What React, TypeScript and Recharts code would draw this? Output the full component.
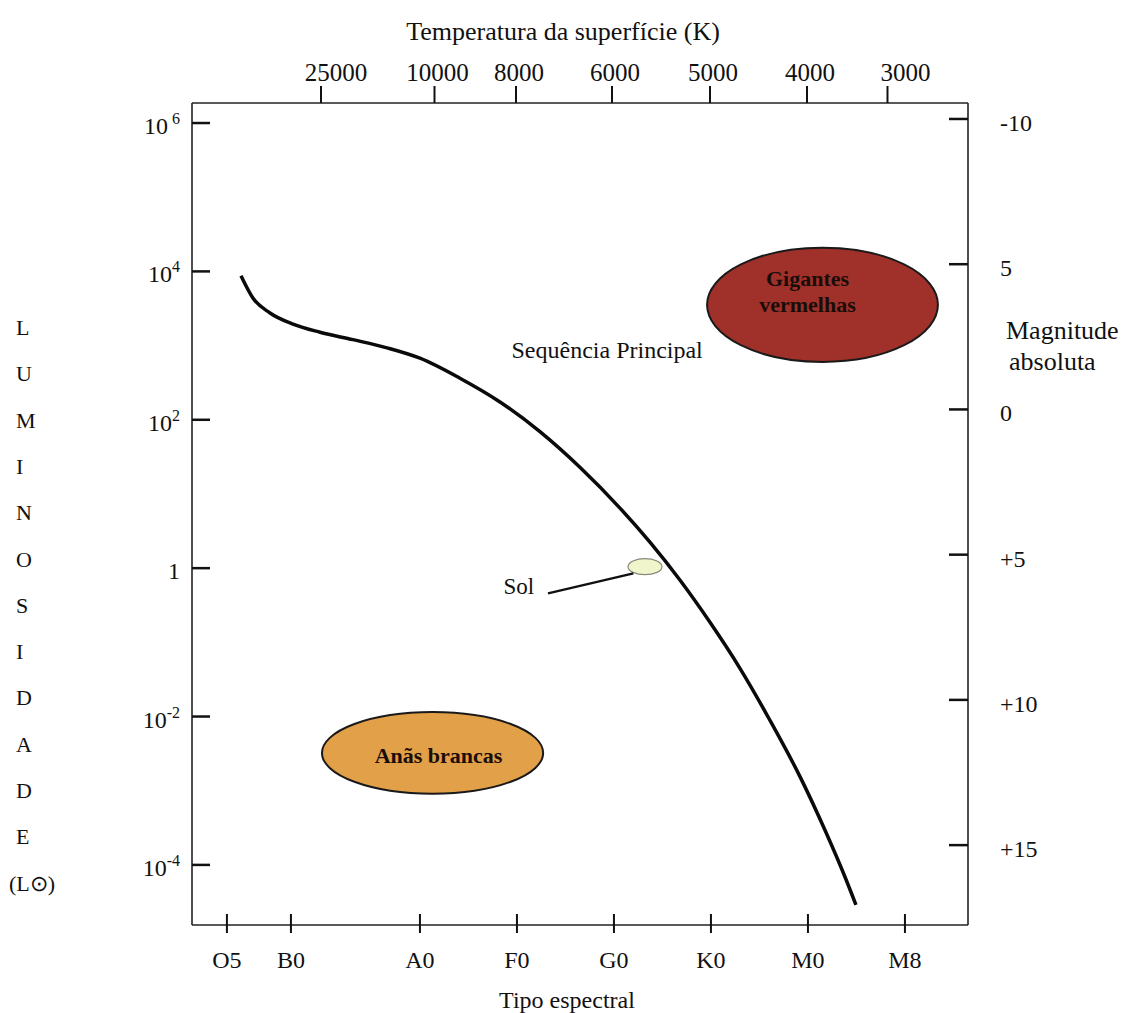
import React from 'react';
import {
  ComposedChart,
  Line,
  XAxis,
  YAxis,
  ReferenceArea,
  ReferenceLine,
  ReferenceDot,
} from 'recharts';

// ---- data ----
// x: diagram column position (A0 = 0, one spectral class per unit)
const spectralTypes = ['O5', 'B0', 'A0', 'F0', 'G0', 'K0', 'M0', 'M8'];
const spectralPos = [-1.99, -1.33, 0, 1, 2, 3, 4, 5];
const temperatureLabels = ['25000', '10000', '8000', '6000', '5000', '4000', '3000'];
const temperaturePos = [-1.02, 0.15, 0.99, 1.98, 2.99, 3.99, 4.82];
// y: log10 luminosity (solar units)
const luminosityTicks = [6, 4, 2, 0, -2, -4];
const magnitudeTicks = [-10, -5, 0, 5, 10, 15];
const magnitudeLabels = ['-10', '5', '0', '+5', '+10', '+15'];

const msPos = [-1.845, -1.722, -1.546, -1.309, -1.031, -0.691, -0.34, 0, 0.412, 0.825, 1.237, 1.649, 2.062, 2.371, 2.68, 2.99, 3.299, 3.608, 3.918, 4.175, 4.381, 4.495];
const msLogL = [3.94, 3.64, 3.44, 3.29, 3.18, 3.08, 2.97, 2.83, 2.56, 2.24, 1.84, 1.36, 0.81, 0.35, -0.16, -0.73, -1.35, -2.05, -2.81, -3.53, -4.16, -4.54];
const mainSequence = msPos.map((p, i) => ({ pos: p, logL: msLogL[i] }));

// regions: [centerPos, centerLogL, halfWidthPos, halfHeightLogL]
const redGiants = [4.15, 3.55, 1.19, 0.77];
const whiteDwarfs = [0.13, -2.49, 1.14, 0.55];
const sun = [2.32, 0.02, 0.175, 0.108];
const sunPointer = [
  { x: 2.2, y: -0.07 },
  { x: 1.32, y: -0.34 },
];
const sunLabel = { x: 1.02, y: -0.25, text: 'Sol' };
const msLabel = { x: 1.93, y: 2.94, text: 'Sequência Principal' };

// ---- styles ----
const FONT = '"Liberation Serif", "Times New Roman", serif';
const INK = '#111';
const X_DOMAIN = [-2.35, 5.65];
const LUM_DOMAIN = [-4.81, 6.27];
const MAG_DOMAIN = [-10.55, 17.75];
const TICK_FONT = 24;

const LumTick = (props: any) => {
  const { x, y, payload } = props;
  const v = payload.value;
  let label: React.ReactNode;
  if (v === 0) label = '1';
  else
    label = (
      <>
        10
        <tspan dy={-10} fontSize={16}>{v === 6 ? ' 6' : v < 0 ? `-${-v}` : `${v}`}</tspan>
      </>
    );
  return (
    <g>
      <line x1={x + 12} x2={x + 30} y1={y} y2={y} stroke={INK} strokeWidth={2.5} />
      <text x={x} y={y + 11} textAnchor="end" fontFamily={FONT} fontSize={TICK_FONT} fill={INK}>
        {label}
      </text>
    </g>
  );
};

const MagTick = (props: any) => {
  const { x, y, index } = props;
  return (
    <g>
      <line x1={x - 51} x2={x - 32} y1={y} y2={y} stroke={INK} strokeWidth={2.5} />
      <text x={x} y={y + 12} textAnchor="start" fontFamily={FONT} fontSize={TICK_FONT} fill={INK}>
        {magnitudeLabels[index]}
      </text>
    </g>
  );
};

const SpectralTick = (props: any) => {
  const { x, y, index } = props;
  return (
    <g>
      <line x1={x} x2={x} y1={y - 46} y2={y - 27} stroke={INK} strokeWidth={2} />
      <text x={x} y={y + 8} textAnchor="middle" fontFamily={FONT} fontSize={TICK_FONT} fill={INK}>
        {spectralTypes[index]}
      </text>
    </g>
  );
};

const TOP_LABEL_DX: Record<string, number> = { '25000': 15, '3000': 18 };

const TempTick = (props: any) => {
  const { x, y, index } = props;
  const label = temperatureLabels[index];
  return (
    <text x={x + (TOP_LABEL_DX[label] || 3)} y={y} textAnchor="middle" fontFamily={FONT} fontSize={25} fill={INK}>
      {label}
    </text>
  );
};

const ellipseShape = (fill: string, stroke: string, lines: string[], dx: number, dy: number, lineGap: number, strokeWidth = 2) => (p: any) => {
  const cx = p.x + p.width / 2;
  const cy = p.y + p.height / 2;
  const top = cy + dy - ((lines.length - 1) * lineGap) / 2;
  return (
    <g>
      <ellipse cx={cx} cy={cy} rx={p.width / 2} ry={p.height / 2} fill={fill} stroke={stroke} strokeWidth={strokeWidth} />
      {lines.map((t, i) => (
        <text
          key={t}
          x={cx + dx}
          y={top + i * lineGap + 8}
          textAnchor="middle"
          fontFamily={FONT}
          fontWeight="bold"
          fontSize={22}
          fill="#1a0d08"
        >
          {t}
        </text>
      ))}
    </g>
  );
};

const textShape = (text: string, size: number, anchor: 'start' | 'middle' | 'end') => (p: any) => (
  <text x={p.cx} y={p.cy + size * 0.33} textAnchor={anchor} fontFamily={FONT} fontSize={size} fill={INK}>
    {text}
  </text>
);

const luminosityLetters = ['L', 'U', 'M', 'I', 'N', 'O', 'S', 'I', 'D', 'A', 'D', 'E'];

const LeftTitle = () => (
  <g fontFamily={FONT} fontSize={22} fill={INK}>
    {luminosityLetters.map((c, i) => (
      <text key={i} x={8} y={327 + i * 46.3}>
        {c}
      </text>
    ))}
    <text x={1} y={327 + 12 * 46.3}>(L⊙)</text>
  </g>
);

const RightTitle = () => (
  <g fontFamily={FONT} fontSize={26} fill={INK}>
    <text x={998} y={331}>Magnitude</text>
    <text x={1001} y={362}>absoluta</text>
  </g>
);

const TopTitle = () => (
  <text x={555} y={32} textAnchor="middle" fontFamily={FONT} fontSize={26} fill={INK}>
    Temperatura da superfície (K)
  </text>
);

const BottomTitle = () => (
  <text x={559} y={1000} textAnchor="middle" fontFamily={FONT} fontSize={24} fill={INK}>
    Tipo espectral
  </text>
);

const area = (r: number[]) => ({ x1: r[0] - r[2], x2: r[0] + r[2], y1: r[1] - r[3], y2: r[1] + r[3] });

export default function App() {
  const axisLine = { stroke: '#222', strokeWidth: 1.6 };
  return (
    <div style={{ background: '#fff' }}>
      <ComposedChart
        width={1120}
        height={1005}
        data={mainSequence}
        margin={{ top: 35, right: 40, bottom: 28, left: 84 }}
      >
        <XAxis
          xAxisId="bottom"
          dataKey="pos"
          type="number"
          orientation="bottom"
          domain={X_DOMAIN}
          ticks={spectralPos}
          interval={0}
          height={60}
          axisLine={axisLine}
          tickLine={false}
          tickSize={0}
          tickMargin={35}
          tick={<SpectralTick />}
          allowDataOverflow
          label={{ content: () => <BottomTitle /> }}
        />
        <XAxis
          xAxisId="top"
          dataKey="pos"
          type="number"
          orientation="top"
          domain={X_DOMAIN}
          ticks={temperaturePos}
          interval={0}
          height={60}
          axisLine={axisLine}
          tickLine={{ stroke: INK, strokeWidth: 2 }}
          tickSize={17}
          tickMargin={5}
          tick={<TempTick />}
          allowDataOverflow
          label={{ content: () => <TopTitle /> }}
        />
        <YAxis
          yAxisId="lum"
          dataKey="logL"
          type="number"
          orientation="left"
          domain={LUM_DOMAIN}
          ticks={luminosityTicks}
          interval={0}
          width={100}
          axisLine={axisLine}
          tickLine={false}
          tickSize={0}
          tickMargin={12}
          tick={<LumTick />}
          allowDataOverflow
          label={{ content: () => <LeftTitle /> }}
        />
        <YAxis
          yAxisId="mag"
          type="number"
          orientation="right"
          reversed
          domain={MAG_DOMAIN}
          ticks={magnitudeTicks}
          interval={0}
          width={120}
          axisLine={axisLine}
          tickLine={false}
          tickSize={0}
          tickMargin={32}
          tick={<MagTick />}
          allowDataOverflow
          label={{ content: () => <RightTitle /> }}
        />
        <ReferenceArea
          xAxisId="bottom"
          yAxisId="lum"
          {...area(redGiants)}
          shape={ellipseShape('#a0302a', '#1a1a1a', ['Gigantes', 'vermelhas'], -15, -14, 26)}
        />
        <ReferenceArea
          xAxisId="bottom"
          yAxisId="lum"
          {...area(whiteDwarfs)}
          shape={ellipseShape('#e2a048', '#1a1a1a', ['Anãs brancas'], 6, 2, 0)}
        />
        <Line
          xAxisId="bottom"
          yAxisId="lum"
          dataKey="logL"
          type="monotone"
          stroke="#0a0a0a"
          strokeWidth={3.5}
          dot={false}
          isAnimationActive={false}
        />
        <ReferenceArea
          xAxisId="bottom"
          yAxisId="lum"
          {...area(sun)}
          shape={ellipseShape('#f1f5cc', '#8a8a7a', [], 0, 0, 0, 1.2)}
        />
        <ReferenceLine
          xAxisId="bottom"
          yAxisId="lum"
          segment={sunPointer}
          stroke="#111"
          strokeWidth={2.5}
        />
        <ReferenceDot
          xAxisId="bottom"
          yAxisId="lum"
          x={sunLabel.x}
          y={sunLabel.y}
          shape={textShape(sunLabel.text, 23, 'middle')}
        />
        <ReferenceDot
          xAxisId="bottom"
          yAxisId="lum"
          x={msLabel.x}
          y={msLabel.y}
          shape={textShape(msLabel.text, 24, 'middle')}
        />
      </ComposedChart>
    </div>
  );
}
